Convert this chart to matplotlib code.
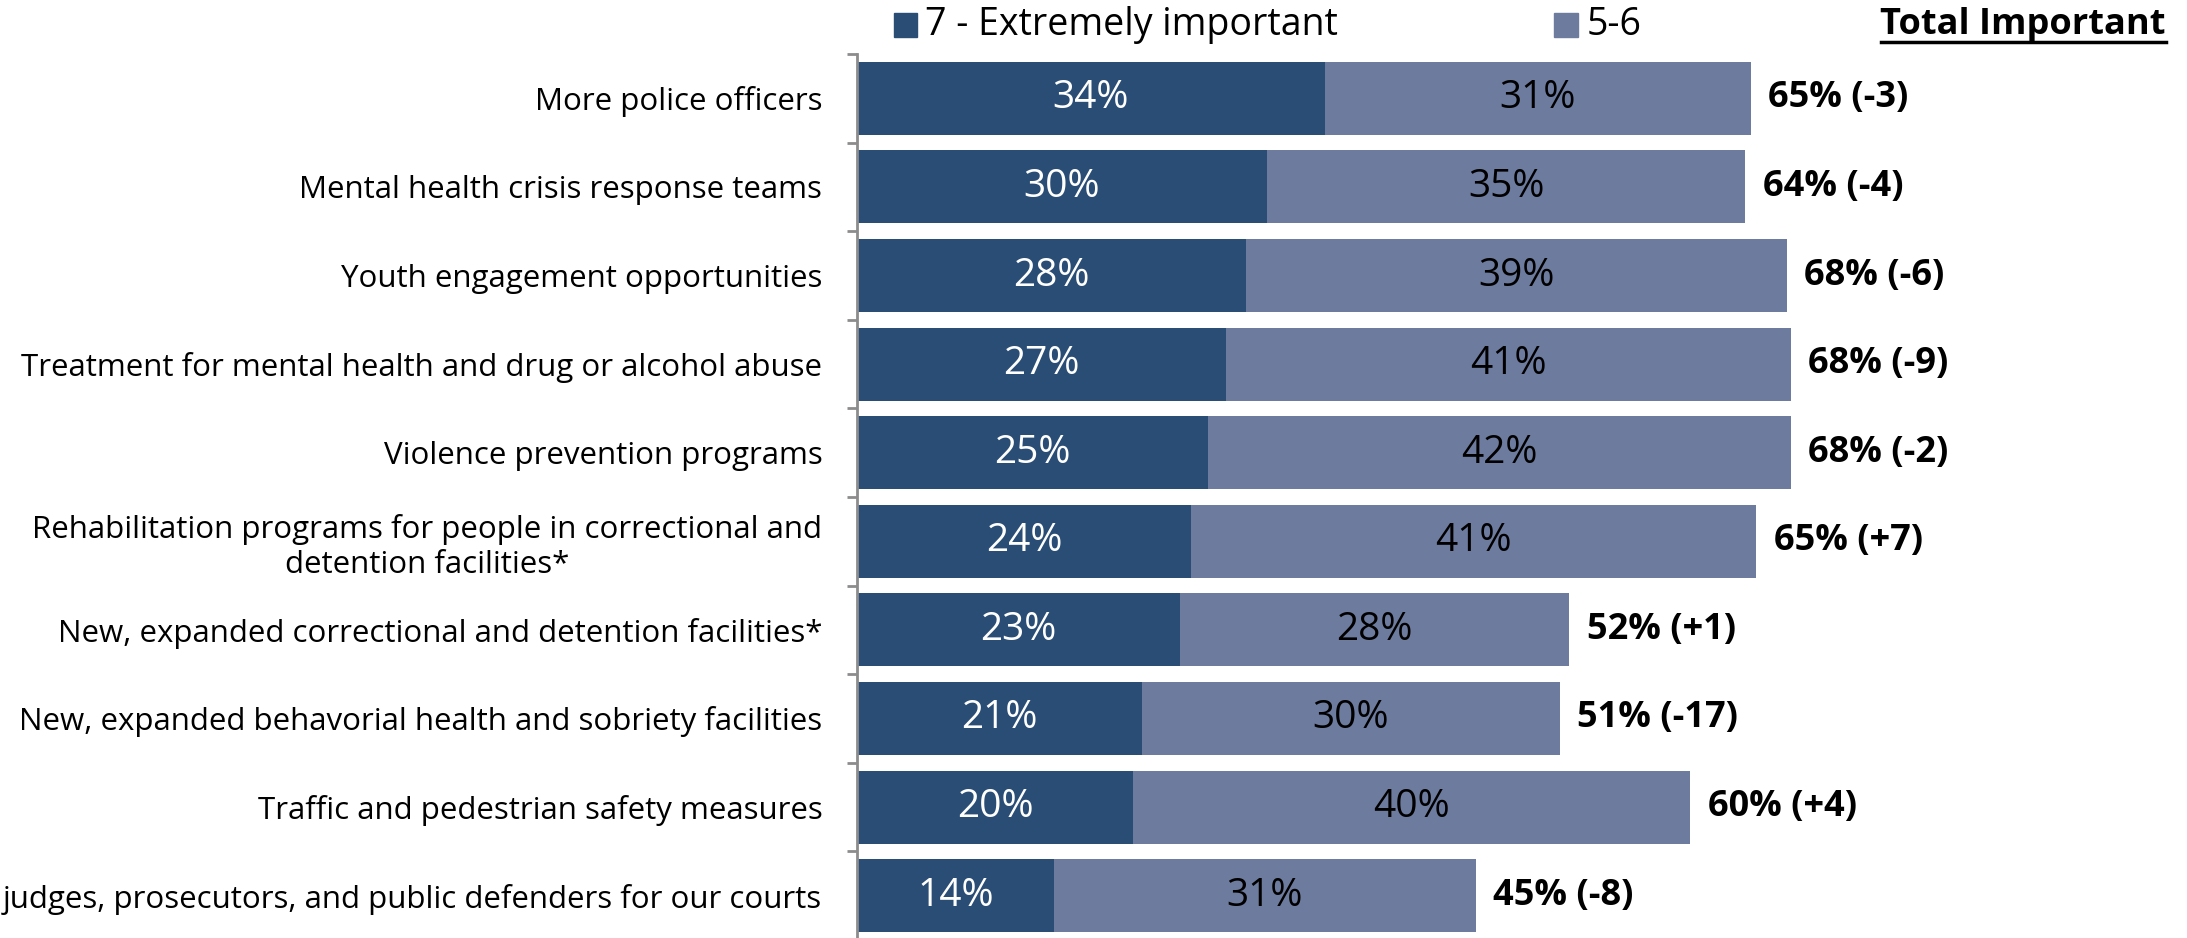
import matplotlib
matplotlib.use("Agg")
import matplotlib.pyplot as plt
from matplotlib.patches import Rectangle
from matplotlib.lines import Line2D

plt.rcParams['font.family'] = ['Open Sans', 'DejaVu Sans']
plt.rcParams['font.stretch'] = 'semi-condensed'

categories = [
    "More police officers",
    "Mental health crisis response teams",
    "Youth engagement opportunities",
    "Treatment for mental health and drug or alcohol abuse",
    "Violence prevention programs",
    "Rehabilitation programs for people in correctional and\ndetention facilities*",
    "New, expanded correctional and detention facilities*",
    "New, expanded behavorial health and sobriety facilities",
    "Traffic and pedestrian safety measures",
    "judges, prosecutors, and public defenders for our courts",
]
# bar lengths
extremely = [34.0, 29.8, 28.3, 26.8, 25.5, 24.3, 23.5, 20.7, 20.1, 14.3]
total = [65.0, 64.6, 67.6, 67.9, 67.9, 65.4, 51.8, 51.1, 60.6, 45.0]
# printed labels
extremely_lbl = [34, 30, 28, 27, 25, 24, 23, 21, 20, 14]
rest_lbl = [31, 35, 39, 41, 42, 41, 28, 30, 40, 31]
total_lbl = ["65% (-3)", "64% (-4)", "68% (-6)", "68% (-9)", "68% (-2)",
             "65% (+7)", "52% (+1)", "51% (-17)", "60% (+4)", "45% (-8)"]

dark = '#2A4D75'
light = '#6D7B9F'
fs = 22.5

fig = plt.figure(figsize=(21.87, 9.38), dpi=100)
ax = fig.add_axes([0.3919, -0.002, 0.6111, 0.9443])

y = list(range(len(categories)))
rest = [t - e for t, e in zip(total, extremely)]
ax.barh(y, extremely, height=0.824, color=dark)
ax.barh(y, rest, left=extremely, height=0.824, color=light)

for i in y:
    ax.text(extremely[i] / 2, i, f"{extremely_lbl[i]}%", ha='center', va='center',
            color='white', fontsize=28)
    ax.text(extremely[i] + rest[i] / 2, i, f"{rest_lbl[i]}%", ha='center', va='center',
            color='black', fontsize=28)
    ax.text(total[i] + 1.25, i, total_lbl[i], ha='left', va='center',
            color='black', fontsize=26, fontweight='bold', fontstretch='condensed')

ax.set_xlim(0, 97.2)
ax.set_ylim(9.5, -0.5)
ax.set_yticks(y)
ax.set_yticklabels(categories, fontsize=fs, multialignment='center')
ax.set_yticks([i - 0.5 for i in range(len(categories) + 1)], minor=True)
ax.tick_params(axis='y', which='major', length=0, pad=25)
ax.tick_params(axis='y', which='minor', length=7, width=2, color='#8C8C8C')
ax.set_xticks([])
for s in ['top', 'right', 'bottom']:
    ax.spines[s].set_visible(False)
ax.spines['left'].set_color('#8C8C8C')
ax.spines['left'].set_linewidth(2)

# legend
W, H = 2187, 938
fig.add_artist(Rectangle((894 / W, 1 - 37 / H), 23 / W, 24 / H, color=dark,
                         transform=fig.transFigure))
fig.text(925 / W, 1 - 25 / H, "7 - Extremely important", fontsize=27, va='center')
fig.add_artist(Rectangle((1554 / W, 1 - 37 / H), 24 / W, 24 / H, color=light,
                         transform=fig.transFigure))
fig.text(1587 / W, 1 - 25 / H, "5-6", fontsize=27, va='center')
t = fig.text(2166 / W, 1 - 25 / H, "Total Important", fontsize=26, va='center',
             ha='right', fontweight='bold', fontstretch='condensed')

fig.canvas.draw()
bb = t.get_window_extent()
uy = (bb.y0 + 1) / H
fig.add_artist(Line2D([bb.x0 / W, bb.x1 / W], [uy, uy], color='black', lw=2.5,
                      transform=fig.transFigure))

fig.savefig("out.png", dpi=100)
